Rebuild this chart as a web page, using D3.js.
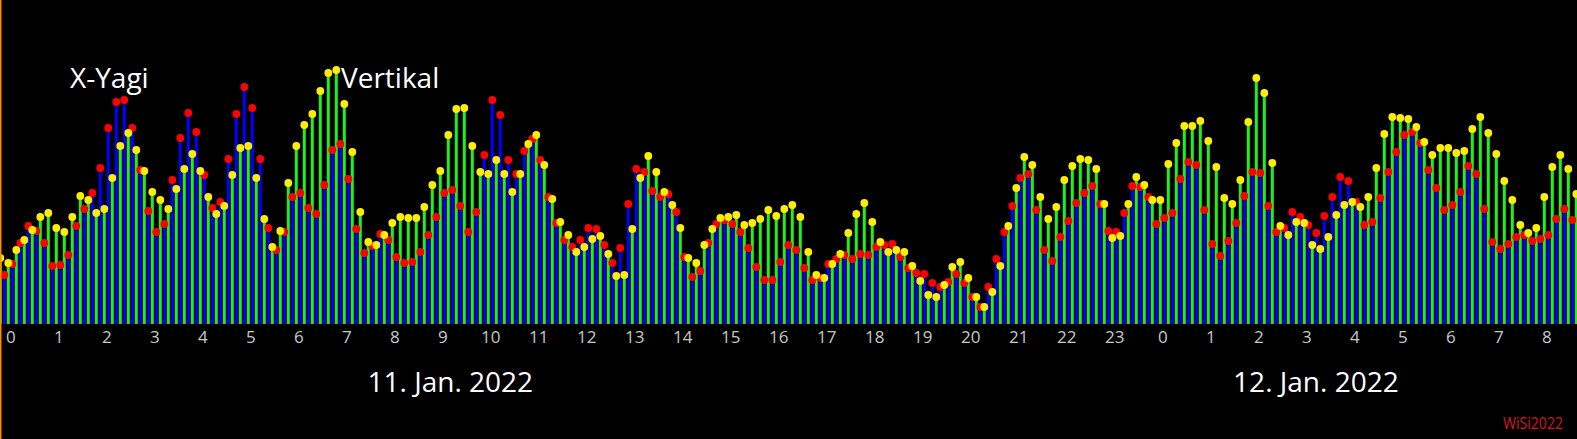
<!DOCTYPE html>
<html>
<head>
<meta charset="utf-8">
<script src="https://cdn.jsdelivr.net/npm/d3@7"></script>
<style>
  html, body { margin: 0; padding: 0; background: #000; overflow: hidden; }
  text { font-family: "Open Sans", sans-serif; }
</style>
</head>
<body>
<div id="chart"></div>
<script>
// 10-minute samples, first one at 10 Jan 23:45
const startTime = new Date(2022, 0, 10, 23, 45);
const stepMinutes = 10;

const seriesNames = ['X-Yagi', 'Vertikal'];

const yagi = [
  71, 49, 60, 81, 98, 93, 81, 58, 59, 69,
  98, 115, 131, 156, 196, 222, 224, 196, 154, 113,
  92, 100, 144, 186, 211, 192, 149, 116, 122, 165,
  210, 237, 216, 165, 96, 74, 92, 127, 131, 116,
  110, 139, 174, 180, 145, 95, 71, 78, 90, 84,
  67, 61, 62, 72, 89, 107, 131, 134, 118, 92,
  112, 169, 224, 209, 164, 150, 173, 185, 164, 127,
  101, 84, 77, 84, 96, 95, 79, 61, 76, 120,
  155, 152, 133, 127, 130, 112, 67, 47, 53, 81,
  100, 104, 100, 92, 76, 57, 44, 44, 62, 79,
  74, 56, 44, 46, 60, 65, 69, 65, 70, 69,
  77, 79, 80, 67, 56, 51, 50, 41, 37, 42,
  50, 41, 27, 17, 37, 65, 92, 118, 146, 150,
  114, 74, 63, 87, 103, 121, 131, 138, 120, 93,
  92, 111, 138, 137, 127, 100, 106, 111, 145, 162,
  159, 114, 80, 68, 83, 101, 128, 152, 151, 118,
  92, 96, 112, 107, 99, 91, 108, 127, 147, 143,
  122, 99, 102, 126, 152, 172, 189, 192, 181, 154,
  136, 114, 119, 132, 158, 150, 115, 82, 75, 80,
  87, 89, 83, 85, 89, 105, 115, 104
];

const vertikal = [
  66, 61, 74, 84, 94, 107, 111, 96, 92, 107,
  128, 124, 111, 115, 146, 178, 191, 174, 153, 132,
  124, 115, 135, 155, 170, 153, 127, 110, 118, 149,
  176, 178, 146, 105, 77, 93, 141, 178, 199, 210,
  233, 251, 254, 220, 172, 112, 82, 79, 89, 101,
  107, 106, 106, 117, 139, 153, 189, 215, 216, 178,
  152, 150, 164, 150, 132, 150, 180, 189, 159, 125,
  102, 89, 72, 77, 85, 88, 70, 48, 49, 95,
  146, 168, 152, 132, 119, 96, 66, 61, 79, 95,
  106, 107, 109, 99, 101, 105, 114, 108, 115, 119,
  107, 72, 49, 46, 60, 70, 91, 110, 121, 102,
  82, 72, 74, 72, 58, 43, 29, 27, 39, 57,
  62, 46, 27, 17, 32, 58, 98, 136, 167, 159,
  127, 105, 117, 144, 158, 165, 164, 155, 120, 86,
  88, 120, 147, 139, 124, 124, 160, 181, 198, 198,
  203, 183, 157, 126, 120, 144, 202, 246, 231, 161,
  98, 89, 102, 101, 79, 75, 87, 109, 119, 122,
  117, 127, 156, 190, 207, 206, 205, 197, 182, 169,
  176, 176, 171, 173, 195, 207, 191, 170, 143, 124,
  99, 91, 96, 127, 157, 169, 155, 130
];

const dayLabels = ['11. Jan. 2022', '12. Jan. 2022'];
const dayLabelTimes = [new Date(2022, 0, 11, 9, 10), new Date(2022, 0, 12, 3, 12)];
const copyright = 'WiSi2022';

const width = 1577;
const height = 439;
const baseline = 324;

const svg = d3.select('#chart')
  .append('svg')
  .attr('width', width)
  .attr('height', height)
  .style('display', 'block')
  .style('background', '#000');

const x = d3.scaleTime()
  .domain([new Date(2022, 0, 11, 0, 0), new Date(2022, 0, 12, 8, 0)])
  .range([10.3, 10.3 + 32 * 48]);

const y = d3.scaleLinear()
  .domain([0, 264])
  .range([baseline, 60]);

const times = yagi.map((_, i) => d3.timeMinute.offset(startTime, i * stepMinutes));

// each sample: blue/red left of the time, green/yellow right of it
const series = [
  { name: seriesNames[0], values: yagi, dx: -2, bar: '#0000ff', dot: '#ff0000' },
  { name: seriesNames[1], values: vertikal, dx: 2, bar: '#1ef01e', dot: '#ffee00' }
];

const plot = svg.append('g');

series.forEach(s => {
  plot.append('g')
    .selectAll('line')
    .data(s.values)
    .enter()
    .append('line')
    .attr('x1', (d, i) => x(times[i]) + s.dx)
    .attr('x2', (d, i) => x(times[i]) + s.dx)
    .attr('y1', y(0))
    .attr('y2', d => y(d))
    .attr('stroke', s.bar)
    .attr('stroke-width', 3);
});

series.forEach(s => {
  plot.append('g')
    .selectAll('circle')
    .data(s.values)
    .enter()
    .append('circle')
    .attr('cx', (d, i) => x(times[i]) + s.dx)
    .attr('cy', d => y(d))
    .attr('r', 3.9)
    .attr('fill', s.dot);
});

// hour axis
const axis = svg.append('g')
  .attr('transform', `translate(0,${baseline})`)
  .call(
    d3.axisBottom(x)
      .ticks(d3.timeHour.every(1))
      .tickSize(0)
      .tickPadding(7)
      .tickFormat(d3.timeFormat('%-H'))
  );
axis.select('.domain').remove();
axis.selectAll('text')
  .attr('fill', '#c8c8c8')
  .style('font-family', '"Open Sans", sans-serif')
  .style('font-size', '17px');

// day labels
svg.append('g')
  .selectAll('text')
  .data(dayLabels)
  .enter()
  .append('text')
  .attr('x', (d, i) => x(dayLabelTimes[i]))
  .attr('y', 391.5)
  .attr('text-anchor', 'middle')
  .attr('fill', '#fff')
  .style('font-size', '28px')
  .text(d => d);

// series names
svg.append('text')
  .attr('x', 70)
  .attr('y', 87.5)
  .attr('fill', '#fff')
  .style('font-size', '28px')
  .text(seriesNames[0]);
svg.append('text')
  .attr('x', 341)
  .attr('y', 87.5)
  .attr('fill', '#fff')
  .style('font-size', '28px')
  .text(seriesNames[1]);

svg.append('text')
  .attr('x', 1503)
  .attr('y', 429)
  .attr('fill', '#d81818')
  .attr('textLength', 60)
  .attr('lengthAdjust', 'spacingAndGlyphs')
  .style('font-size', '17px')
  .text(copyright);

// orange frame edge on the left
svg.append('rect')
  .attr('x', 0)
  .attr('y', 0)
  .attr('width', 1.5)
  .attr('height', height)
  .attr('fill', '#ff8c00');
</script>
</body>
</html>
